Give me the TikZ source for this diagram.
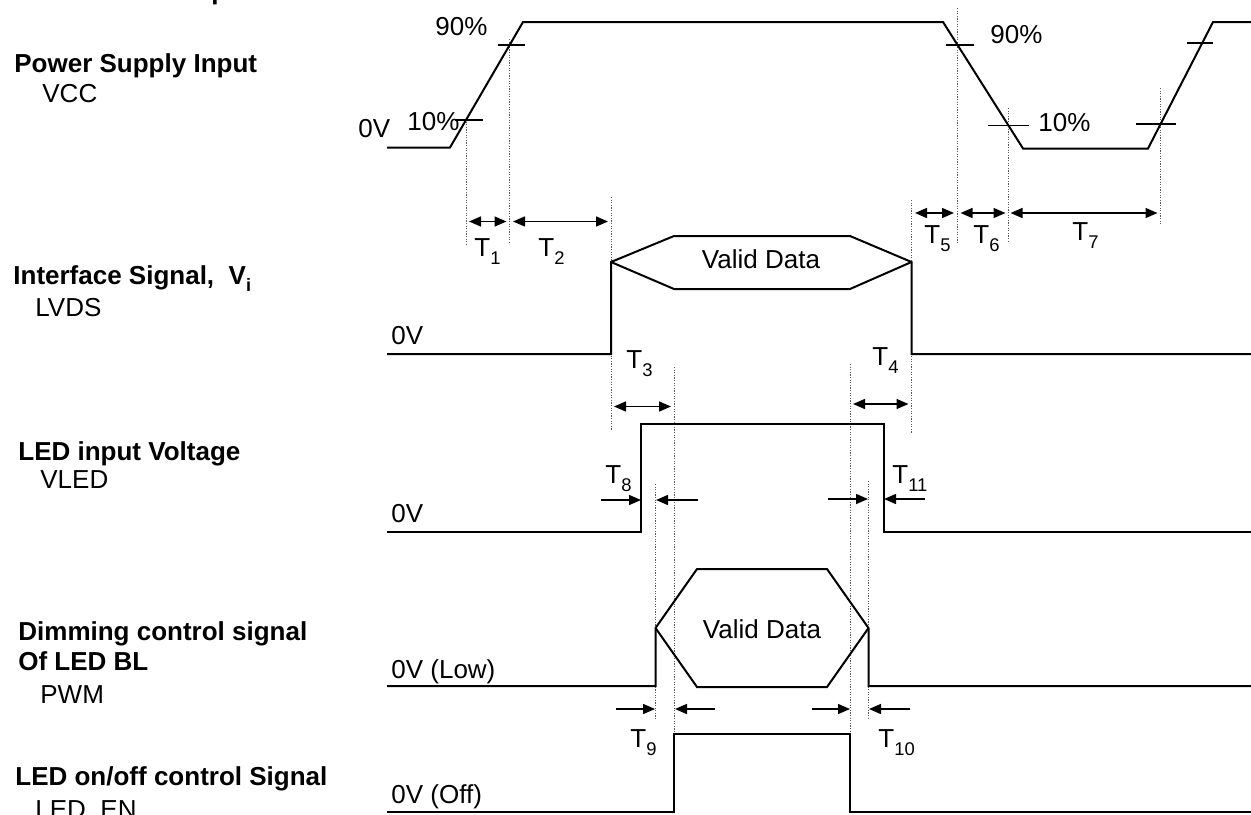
\documentclass[tikz,border=0pt]{standalone}
\usepackage{fontspec}
\setmainfont{Liberation Sans}
\usetikzlibrary{arrows.meta}
\newcommand{\Tlab}[1]{T\raisebox{-0.34em}{\fontsize{9.2}{9.2}\selectfont #1}}
\begin{document}
\begin{tikzpicture}[x=0.5pt,y=-0.5pt,
  font=\fontsize{13}{15}\selectfont,
  wave/.style={line width=1pt},
  tickmark/.style={line width=0.7pt},
  guide/.style={draw=black!65,line width=0.4pt,dash pattern=on 0.6pt off 0.7pt},
  dimarrow/.style={line width=0.75pt,{Triangle[length=6pt,width=5pt]}-{Triangle[length=6pt,width=5pt]}},
  inarrow/.style={line width=0.75pt,-{Triangle[length=6pt,width=5pt]}},
  txt/.style={inner sep=0pt,anchor=base west},
  boldtxt/.style={txt,font=\fontsize{13}{15}\selectfont\bfseries}]
\useasboundingbox (0,0) rectangle (1251,814);

% ---- left labels
\node[boldtxt] (frag) at (211,-1) {p};
\node[boldtxt] (lpsu) at (14,72) {Power Supply Input};
\node[txt] (lvcc) at (42,102) {VCC};
\node[boldtxt] (lif) at (13,284) {Interface Signal,\ \ V\raisebox{-0.3em}{\fontsize{9}{9}\selectfont i}};
\node[txt] (llvds) at (35,316) {LVDS};
\node[boldtxt] (lled) at (18,460) {LED input Voltage};
\node[txt] (lvled) at (40,488) {VLED};
\node[boldtxt] (ldim) at (18,640) {Dimming control signal};
\node[boldtxt] (ldim2) at (18,670) {Of LED BL};
\node[txt] (lpwm) at (40,703) {PWM};
\node[boldtxt] (len) at (15,785) {LED on/off control Signal};
\node[txt] (lenn) at (35,818) {LED\_EN};

% ---- guide lines (dotted)
\draw[guide] (466,119) -- (466,244);
\draw[guide] (509.5,39) -- (509.5,244);
\draw[guide] (611,197) -- (611,430);
\draw[guide] (957.5,8) -- (957.5,244);
\draw[guide] (1008,108) -- (1008,243);
\draw[guide] (1160,88) -- (1160,225);
\draw[guide] (911.5,200) -- (911.5,433);
\draw[guide] (674,367) -- (674,734);
\draw[guide] (850,364) -- (850,734);
\draw[guide] (655.5,484) -- (655.5,720);
\draw[guide] (868.5,481) -- (868.5,718);

% ---- VCC waveform
\draw[wave] (387,147.5) -- (450,147.5) -- (523,22) -- (943,22) -- (1023,148.5)
  -- (1148,148.5) -- (1213,22) -- (1251,22);
\draw[tickmark] (455,120) -- (483,120);
\draw[tickmark] (498,45) -- (525,45);
\draw[tickmark] (946,45) -- (974,45);
\draw[tickmark] (988,125.7) -- (1029,125.7);
\draw[tickmark] (1136,124) -- (1176,124);
\draw[tickmark] (1187,43) -- (1213,43);
\node[txt] (v0) at (358,137) {0V};
\node[txt] (v90a) at (435,35) {90\%};
\node[txt] (v10a) at (407,130) {10\%};
\node[txt] (v90b) at (990,43) {90\%};
\node[txt] (v10b) at (1038,131) {10\%};

% ---- Interface signal
\draw[wave] (387,354) -- (611,354) -- (611,262) -- (674,236) -- (850,236) -- (911.5,262)
  -- (911.5,354) -- (1251,354);
\draw[wave] (611,262) -- (674,289) -- (850,289) -- (911.5,262);
\node[inner sep=0pt,anchor=base] (vd1) at (761,268) {Valid Data};
\node[txt] (i0) at (391,344) {0V};

% ---- LED input voltage
\draw[wave] (387,532) -- (641,532) -- (641,424) -- (883.5,424) -- (883.5,532) -- (1251,532);
\node[txt] (l0) at (391,522) {0V};

% ---- PWM
\draw[wave] (387,686) -- (655.5,686) -- (655.5,628) -- (697,569) -- (827,569) -- (868.5,628)
  -- (868.5,686) -- (1251,686);
\draw[wave] (655.5,628) -- (697,687) -- (827,687) -- (868.5,628);
\node[inner sep=0pt,anchor=base] (vd2) at (762,638) {Valid Data};
\node[txt] (p0) at (391,678) {0V (Low)};

% ---- LED_EN
\draw[wave] (387,812) -- (674,812) -- (674,734) -- (850,734) -- (850,812) -- (1251,812);
\node[txt] (e0) at (391,803) {0V (Off)};

% ---- timing arrows
\draw[dimarrow] (469,221.5) -- (506.5,221.5);
\draw[dimarrow] (513,221.5) -- (608,221.5);
\draw[dimarrow] (915,213) -- (954,213);
\draw[dimarrow] (960.5,213) -- (1005.5,213);
\draw[dimarrow] (1010.5,213) -- (1157.5,213);
\draw[dimarrow] (614,406.5) -- (671,406.5);
\draw[dimarrow] (853,404) -- (908.5,404);
\draw[inarrow] (601,500) -- (641,500);
\draw[inarrow] (698,500) -- (656,500);
\draw[inarrow] (828,499) -- (868,499);
\draw[inarrow] (925,499) -- (884,499);
\draw[inarrow] (616,709) -- (655,709);
\draw[inarrow] (715,709) -- (675,709);
\draw[inarrow] (812,709) -- (850,709);
\draw[inarrow] (910,709) -- (869,709);

\node[txt] (t1) at (474,256) {\Tlab{1}};
\node[txt] (t2) at (538,256) {\Tlab{2}};
\node[txt] (t3) at (626,368) {\Tlab{3}};
\node[txt] (t4) at (872,365) {\Tlab{4}};
\node[txt] (t5) at (924,243) {\Tlab{5}};
\node[txt] (t6) at (973,243) {\Tlab{6}};
\node[txt] (t7) at (1072,240) {\Tlab{7}};
\node[txt] (t8) at (605,483) {\Tlab{8}};
\node[txt] (t11) at (892,483) {\Tlab{11}};
\node[txt] (t9) at (630,747) {\Tlab{9}};
\node[txt] (t10) at (878,747) {\Tlab{10}};
\end{tikzpicture}
\end{document}
